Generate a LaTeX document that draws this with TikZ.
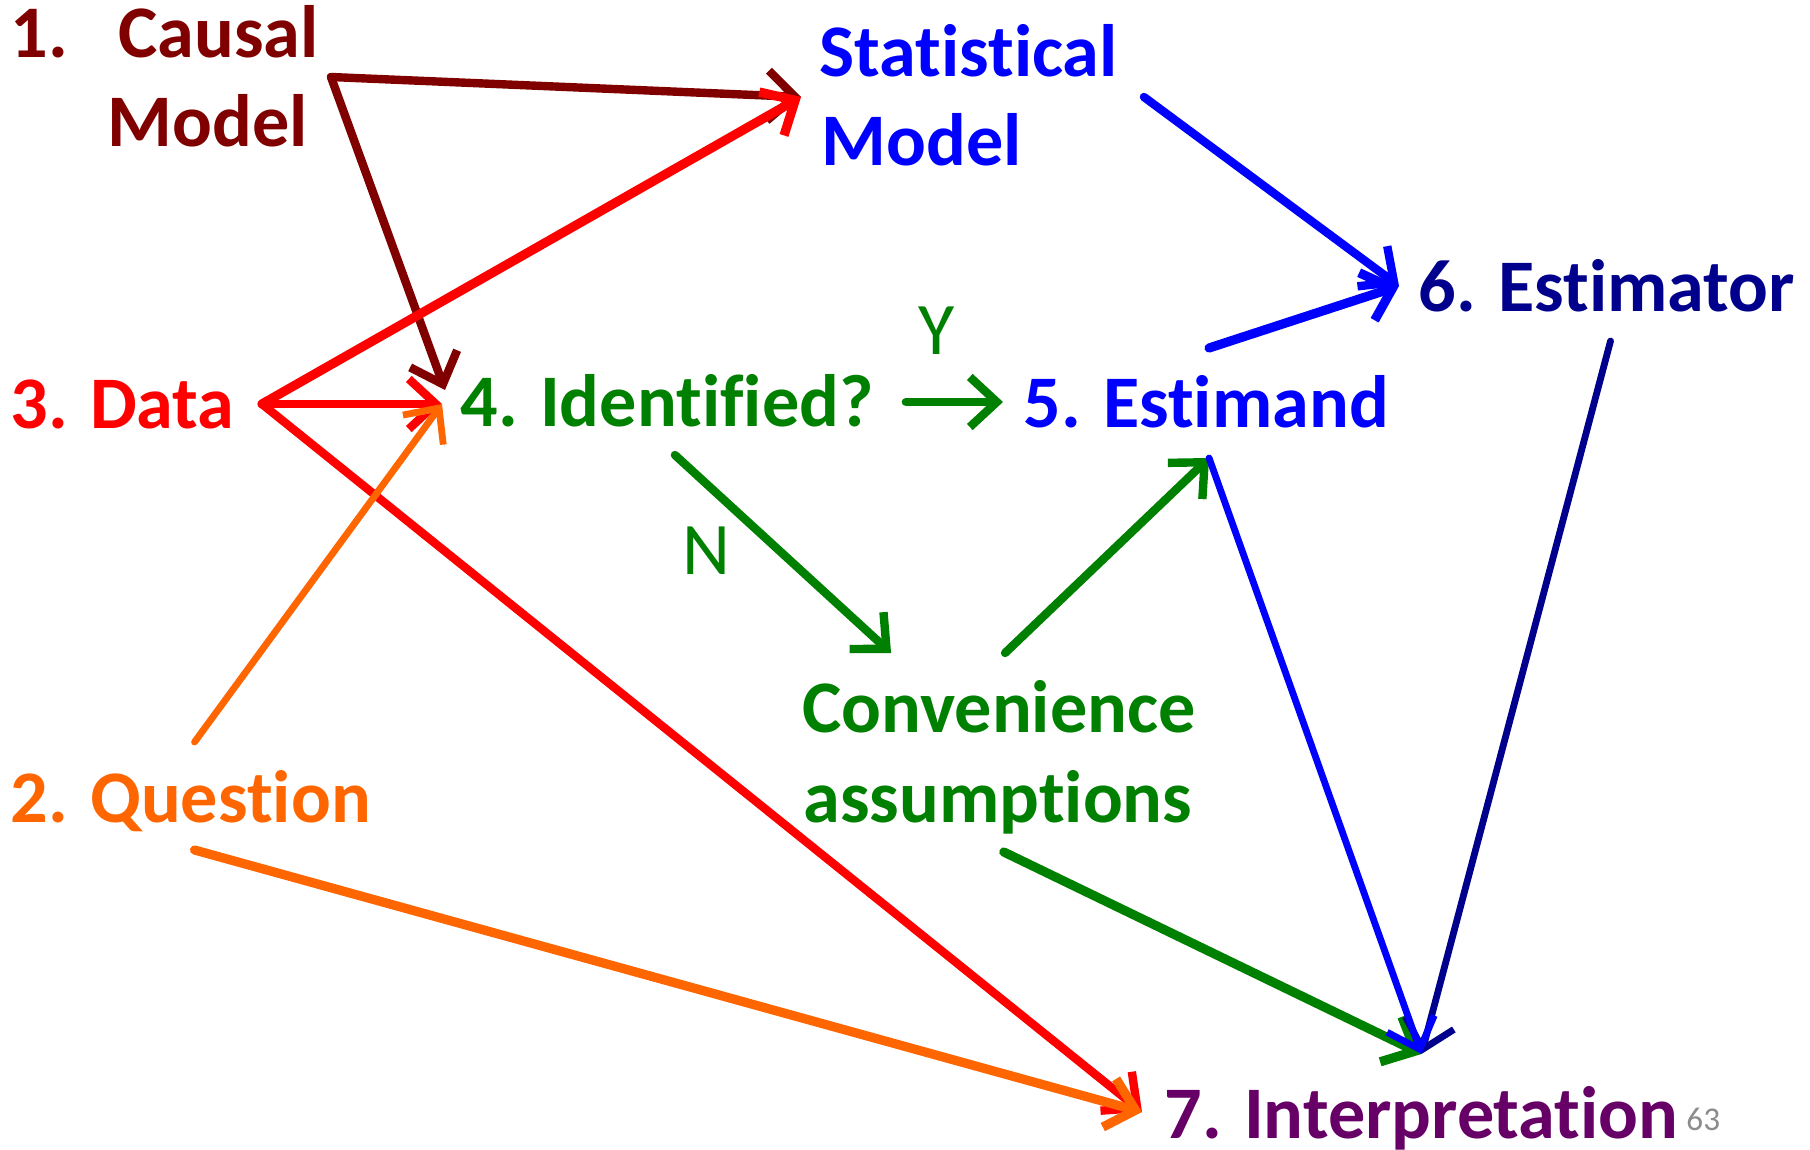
\documentclass[tikz,border=0pt]{standalone}
\usepackage{fontspec}
\setmainfont{Carlito}[Ligatures=NoCommon]
\usetikzlibrary{arrows.meta,calc}

\definecolor{cmred}{RGB}{128,0,0}
\definecolor{datared}{RGB}{255,0,0}
\definecolor{qorange}{RGB}{255,102,0}
\definecolor{idgreen}{RGB}{0,128,0}
\definecolor{smblue}{RGB}{0,0,255}
\definecolor{estnavy}{RGB}{0,0,140}
\definecolor{intpurple}{RGB}{102,0,102}
\definecolor{pagegray}{RGB}{140,140,140}

\begin{document}
\begin{tikzpicture}[x=0.5pt,y=-0.5pt,
  lbl/.style={anchor=base west, inner sep=0pt, font=\fontsize{37.1}{40}\selectfont\bfseries},
  yn/.style={anchor=base west, inner sep=0pt, font=\fontsize{37.1}{40}\selectfont, text=idgreen},
  link/.style={line width=4.2pt, line cap=round, line join=round,
    -{Straight Barb[length=13.5pt,width=25pt]},
    preaction={draw=black!14, transform canvas={shift={(0.8pt,-1.3pt)}}}},
  thin link/.style={link, line width=3.4pt},
  thick link/.style={link, line width=4.6pt},
]
\fill[white] (0,0) rectangle (1810,1150);
\useasboundingbox (0,0) rectangle (1810,1150);

% ---- labels ----
\node[lbl, text=cmred] (num1)   at (10,58)   {1.};
\node[lbl, text=cmred] (causal) at (118,58)  {Causal};
\node[lbl, text=cmred] (cmodel) at (107,147) {Model};

\node[lbl, text=smblue] (stat1) at (819,77)  {Statistical};
\node[lbl, text=smblue] (stat2) at (821,166) {Model};

\node[lbl, text=estnavy] (est) at (1418,312) {6. Estimator};

\node[lbl, text=datared] (data)  at (10,428)  {3. Data};
\node[lbl, text=idgreen] (ident) at (460,426) {4. Identified?};
\node[lbl, text=smblue] (estimand) at (1023,427) {5. Estimand};

\node[lbl, text=idgreen] (conv1) at (802,732) {Convenience};
\node[lbl, text=idgreen] (conv2) at (803,822) {assumptions};

\node[lbl, text=qorange] (quest) at (10,822) {2. Question};
\node[lbl, text=intpurple] (interp) at (1164,1138) {7. Interpretation};

\node[anchor=base west, inner sep=0pt, font=\fontsize{16.6}{18}\selectfont, text=pagegray]
  (page) at (1686,1130) {63};

\node[yn] (yes) at (918,355) {Y};
\node[yn] (no)  at (682,574) {N};

% ---- connector end points ----
\coordinate (cm-out)    at ($(causal.base east)+(12,19)$);
\coordinate (stat-in)   at ($(stat1.base west)+(-18,20)$);
\coordinate (stat-out)  at ($(stat1.base east)+(26,20)$);
\coordinate (data-out)  at ($(data.base east)+(27,-24)$);
\coordinate (ident-in)  at ($(ident.base west)+(-18,-22)$);
\coordinate (ident-top) at ($(ident.base west)+(-15,-36)$);
\coordinate (ident-out) at ($(ident.base east)+(32,-24)$);
\coordinate (ident-low) at ($(ident.base)+(8,29)$);
\coordinate (q-up)      at ($(quest.base)+(4,-80)$);
\coordinate (q-down)    at ($(quest.base)+(4,28)$);
\coordinate (estd-in)   at ($(estimand.base west)+(-20,-25)$);
\coordinate (estd-up)   at ($(estimand.base)+(3,-79)$);
\coordinate (estd-low)  at ($(estimand.base)+(3,31)$);
\coordinate (conv-nw)   at ($(conv1.base)+(-108,-79)$);
\coordinate (conv-up)   at ($(conv1.base)+(6,-79)$);
\coordinate (conv-low)  at ($(conv2.base)+(6,30)$);
\coordinate (est-in)    at ($(est.base west)+(-19,-26)$);
\coordinate (est-low)   at ($(est.base)+(4,29)$);
\coordinate (interp-in) at ($(interp.base west)+(-22,-26)$);
\coordinate (interp-top) at ($(interp.base)+(0,-84)$);

% ---- connectors ----
\draw[link, draw=cmred] (cm-out) -- (stat-in);
\draw[link, draw=cmred] (cm-out) -- (ident-top);

\draw[thick link, draw=datared] (data-out) -- (stat-in);
\draw[link, draw=datared] (data-out) -- (ident-in);
\draw[link, draw=datared] (data-out) -- (interp-in);

\draw[thin link, draw=qorange] (q-up) -- (ident-in);
\draw[thick link, draw=qorange] (q-down) -- (interp-in);

\draw[link, draw=idgreen] (ident-out) -- (estd-in);
\draw[link, draw=idgreen] (ident-low) -- (conv-nw);
\draw[link, draw=idgreen] (conv-up) -- (estd-low);
\draw[thick link, draw=idgreen] (conv-low) -- (interp-top);

\draw[link, draw=smblue] (stat-out) -- (est-in);
\draw[thick link, draw=smblue] (estd-up) -- (est-in);
\draw[thin link, draw=estnavy] (est-low) -- (interp-top);
\draw[thin link, draw=smblue] (estd-low) -- (interp-top);
\end{tikzpicture}
\end{document}
